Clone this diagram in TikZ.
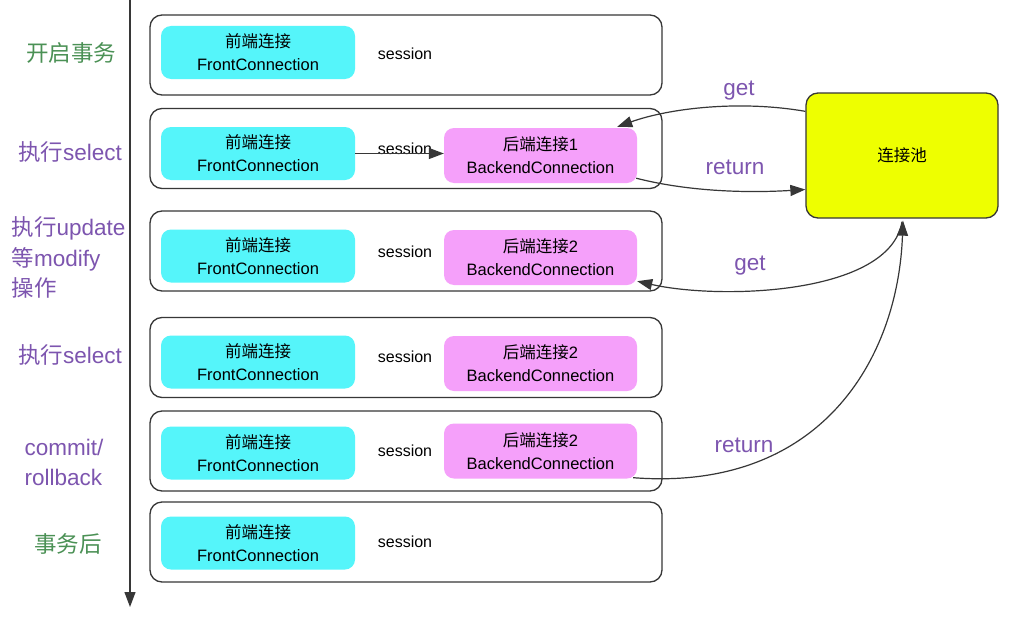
\documentclass[tikz,border=0pt]{standalone}
\usepackage{fontspec}
\setmainfont{Liberation Sans}
\newfontfamily\cjk{Noto Sans CJK SC}
\usetikzlibrary{arrows.meta,calc}
\definecolor{cyanc}{RGB}{85,245,250}
\definecolor{pinkc}{RGB}{245,160,250}
\definecolor{poolc}{RGB}{238,255,0}
\definecolor{purpc}{RGB}{125,85,175}
\definecolor{greenc}{RGB}{75,145,85}
\definecolor{linec}{RGB}{55,55,55}
\begin{document}
\begin{tikzpicture}[x=1pt,y=-1pt,
  rowbox/.style={draw=linec, line width=1.3pt, rounded corners=12pt, minimum width=512pt, minimum height=80pt, inner sep=0pt},
  front/.style={fill=cyanc, rounded corners=10pt, minimum width=194pt, minimum height=53pt, align=center, inner sep=0pt, font=\fontsize{16.5}{23}\selectfont},
  back/.style={fill=pinkc, rounded corners=10pt, minimum width=193pt, minimum height=55pt, align=center, inner sep=0pt, font=\fontsize{16.5}{23}\selectfont},
  sess/.style={font=\fontsize{16}{18}\selectfont},
  lab/.style={font=\fontsize{22.5}{29}\selectfont, text=purpc},
  glab/.style={font=\fontsize{22.5}{29}\selectfont, text=greenc},
  arr/.style={draw=linec, line width=1.2pt, -{Triangle[length=15pt,width=11pt]}},
  plain/.style={draw=linec, line width=1.2pt}
]
\useasboundingbox (0,0) rectangle (1011,618);
\fill[white] (0,0) rectangle (1011,618);

% timeline
\coordinate (tTop) at (130,0);
\coordinate (tBot) at (130,607);
\draw[arr] (tTop) -- (tBot);

% rows
\node[rowbox] (r1) at (406,55) {};
\node[rowbox] (r2) at (406,148.5) {};
\node[rowbox] (r3) at (406,251) {};
\node[rowbox] (r4) at (406,357.5) {};
\node[rowbox] (r5) at (406,451) {};
\node[rowbox] (r6) at (406,542) {};

% front connections
\node[front] (f1) at (258,52.5) {{\cjk 前端连接}\\FrontConnection};
\node[front] (f2) at (258,153.5) {{\cjk 前端连接}\\FrontConnection};
\node[front] (f3) at (258,256) {{\cjk 前端连接}\\FrontConnection};
\node[front] (f4) at (258,362) {{\cjk 前端连接}\\FrontConnection};
\node[front] (f5) at (258,453) {{\cjk 前端连接}\\FrontConnection};
\node[front] (f6) at (258,543) {{\cjk 前端连接}\\FrontConnection};

% backend connections
\node[back] (b2) at (540.5,155.5) {{\cjk 后端连接}1\\BackendConnection};
\node[back] (b3) at (540.5,257.5) {{\cjk 后端连接}2\\BackendConnection};
\node[back] (b4) at (540.5,363.5) {{\cjk 后端连接}2\\BackendConnection};
\node[back] (b5) at (540.5,451) {{\cjk 后端连接}2\\BackendConnection};

% session labels
\node[sess] (s1) at (405,54) {session};
\node[sess] (s2) at (405,149) {session};
\node[sess] (s3) at (405,252) {session};
\node[sess] (s4) at (405,357) {session};
\node[sess] (s5) at (405,451) {session};
\node[sess] (s6) at (405,542) {session};
\draw[arr] (f2.east) -- (f2.east -| b2.west);

% pool
\node[draw=linec, line width=1.3pt, fill=poolc, rounded corners=12pt, minimum width=192pt, minimum height=125pt, font=\fontsize{16.5}{18}\selectfont\cjk] (pool) at (902,155.5) {连接池};

% left labels
\node[glab] (l1) at (71,53) {\cjk 开启事务};
\node[lab] (l2) at (70,152) {{\cjk 执行}select};
\node[lab, align=left, anchor=west, font=\fontsize{22.5}{30.5}\selectfont] (l3) at (8,257.5) {{\cjk 执行}update\\{\cjk 等}modify\\{\cjk 操作}};
\node[lab] (l4) at (70,355) {{\cjk 执行}select};
\node[lab, align=left, font=\fontsize{22.5}{30}\selectfont] (l5) at (64,462) {commit/\\rollback};
\node[glab] (l6) at (68,544) {\cjk 事务后};

% arrow labels
\node[lab] (g1) at (739,91) {get};
\node[lab] (rt1) at (735,167) {return};
\node[lab] (g2) at (750,266) {get};
\node[lab] (rt2) at (744,445) {return};

% pool arrows
\draw[arr] ($(pool.north west)+(0,19)$) .. controls (740,100) and (670,108) .. ($(b2.north east)+(-20,-1)$);
\draw[arr] ($(b2.south east)+(-1,-5)$) .. controls (690,192) and (750,193) .. ($(pool.west)+(0,34)$);
\draw[arr] ($(pool.south)+(0,3)$) .. controls (890,295) and (720,300) .. ($(b3.south east)+(0,-4)$);
\draw[arr] ($(b5.south east)+(-4,-1)$) .. controls (820,492) and (898,360) .. ($(pool.south)+(1,2)$);
\end{tikzpicture}
\end{document}
